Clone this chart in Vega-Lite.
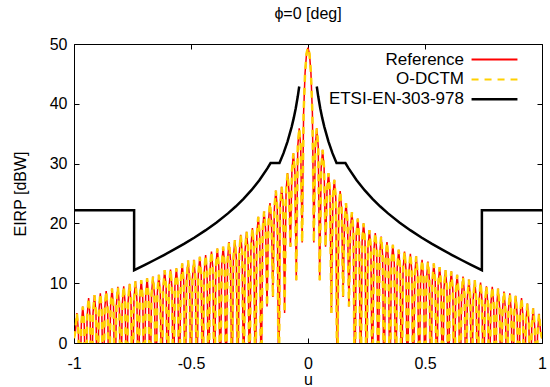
{
 "$schema": "https://vega.github.io/schema/vega-lite/v6.json",
 "width": 468,
 "height": 299,
 "autosize": {"type": "none"},
 "padding": {"left": 74, "top": 44, "right": 8, "bottom": 44},
 "background": "white",
 "title": {"text": "ϕ=0 [deg]", "fontSize": 16, "fontWeight": "normal", "font": "Liberation Sans", "color": "black", "anchor": "middle", "offset": 1, "baseline": "alphabetic"},
 "config": {
  "view": {"stroke": "black", "strokeWidth": 1},
  "font": "Liberation Sans",
  "axis": {"grid": false, "domain": false, "tickColor": "black", "tickSize": -5, "tickWidth": 1, "labelFontSize": 16, "labelColor": "black", "titleFontSize": 16, "titleFontWeight": "normal", "titleColor": "black", "labelFont": "Liberation Sans", "titleFont": "Liberation Sans", "labelFlush": false, "labelOverlap": false},
  "legend": {"orient": "none", "legendX": 412, "legendY": 7, "padding": 0, "symbolType": "M-2.55,0H2.55", "symbolSize": 324, "symbolStrokeWidth": 2, "labelFontSize": 17, "labelFont": "Liberation Sans", "labelColor": "black", "labelAlign": "right", "labelOffset": -39, "rowPadding": 1.9, "labelLimit": 300}
 },
 "datasets": {
  "pat": [
{"u":-1,"r":0.8,"o":0.8},{"u":-0.99375,"r":2.0,"o":2.0},{"u":-0.9875,"r":5.0,"o":5.0},{"u":-0.98125,"r":2.0,"o":2.0},{"u":-0.975,"r":-10,"o":-10},
{"u":-0.96875,"r":3.1,"o":3.1},{"u":-0.9625,"r":6.1,"o":6.1},{"u":-0.95625,"r":3.1,"o":3.1},{"u":-0.95,"r":-10,"o":-10},
{"u":-0.94375,"r":4.5,"o":4.5},{"u":-0.9375,"r":7.5,"o":7.5},{"u":-0.93125,"r":4.5,"o":4.5},{"u":-0.925,"r":-10,"o":-10},
{"u":-0.91875,"r":5.0,"o":5.0},{"u":-0.9125,"r":8.0,"o":8.0},{"u":-0.90625,"r":5.0,"o":5.0},{"u":-0.9,"r":-10,"o":-10},
{"u":-0.89375,"r":5.3,"o":5.3},{"u":-0.8875,"r":8.3,"o":8.3},{"u":-0.88125,"r":5.3,"o":5.3},{"u":-0.875,"r":-10,"o":-10},
{"u":-0.86875,"r":5.7,"o":5.7},{"u":-0.8625,"r":8.7,"o":8.7},{"u":-0.85625,"r":5.7,"o":5.7},{"u":-0.85,"r":-10,"o":-10},
{"u":-0.84375,"r":6.1,"o":6.1},{"u":-0.8375,"r":9.1,"o":9.1},{"u":-0.83125,"r":6.1,"o":6.1},{"u":-0.825,"r":-10,"o":-10},
{"u":-0.81875,"r":6.4,"o":6.4},{"u":-0.8125,"r":9.4,"o":9.4},{"u":-0.80625,"r":6.4,"o":6.4},{"u":-0.8,"r":-10,"o":-10},
{"u":-0.79375,"r":6.5,"o":6.5},{"u":-0.7875,"r":9.5,"o":9.5},{"u":-0.78125,"r":6.5,"o":6.5},{"u":-0.775,"r":-10,"o":-10},
{"u":-0.76875,"r":6.9,"o":6.9},{"u":-0.7625,"r":9.9,"o":9.9},{"u":-0.75625,"r":6.9,"o":6.9},{"u":-0.75,"r":-10,"o":-10},
{"u":-0.74375,"r":7.3,"o":7.3},{"u":-0.7375,"r":10.3,"o":10.3},{"u":-0.73125,"r":7.3,"o":7.3},{"u":-0.725,"r":-10,"o":-10},
{"u":-0.71875,"r":7.5,"o":7.5},{"u":-0.7125,"r":10.5,"o":10.5},{"u":-0.70625,"r":7.5,"o":7.5},{"u":-0.7,"r":-10,"o":-10},
{"u":-0.69375,"r":7.8,"o":7.8},{"u":-0.6875,"r":10.8,"o":10.8},{"u":-0.68125,"r":7.8,"o":7.8},{"u":-0.675,"r":-10,"o":-10},
{"u":-0.66875,"r":8.1,"o":8.1},{"u":-0.6625,"r":11.1,"o":11.1},{"u":-0.65625,"r":8.1,"o":8.1},{"u":-0.65,"r":-10,"o":-10},
{"u":-0.64375,"r":8.4,"o":8.4},{"u":-0.6375,"r":11.4,"o":11.4},{"u":-0.63125,"r":8.4,"o":8.4},{"u":-0.625,"r":-10,"o":-10},
{"u":-0.61875,"r":9.2,"o":9.2},{"u":-0.6125,"r":12.2,"o":12.2},{"u":-0.60625,"r":9.2,"o":9.2},{"u":-0.6,"r":-10,"o":-10},
{"u":-0.59375,"r":9.3,"o":9.3},{"u":-0.5875,"r":12.3,"o":12.3},{"u":-0.58125,"r":9.3,"o":9.3},{"u":-0.575,"r":-10,"o":-10},
{"u":-0.56875,"r":9.5,"o":9.5},{"u":-0.5625,"r":12.5,"o":12.5},{"u":-0.55625,"r":9.5,"o":9.5},{"u":-0.55,"r":-10,"o":-10},
{"u":-0.54375,"r":10.3,"o":10.3},{"u":-0.5375,"r":13.3,"o":13.3},{"u":-0.53125,"r":10.3,"o":10.3},{"u":-0.525,"r":-10,"o":-10},
{"u":-0.51875,"r":10.8,"o":10.8},{"u":-0.5125,"r":13.8,"o":13.8},{"u":-0.50625,"r":10.8,"o":10.8},{"u":-0.5,"r":-10,"o":-10},
{"u":-0.49375,"r":10.9,"o":10.9},{"u":-0.4875,"r":13.9,"o":13.9},{"u":-0.48125,"r":10.9,"o":10.9},{"u":-0.475,"r":-10,"o":-10},
{"u":-0.46875,"r":11.4,"o":11.4},{"u":-0.4625,"r":14.4,"o":14.4},{"u":-0.45625,"r":11.4,"o":11.4},{"u":-0.45,"r":-10,"o":-10},
{"u":-0.44375,"r":11.7,"o":11.7},{"u":-0.4375,"r":14.7,"o":14.7},{"u":-0.43125,"r":11.7,"o":11.7},{"u":-0.425,"r":-10,"o":-10},
{"u":-0.41875,"r":12.3,"o":12.3},{"u":-0.4125,"r":15.3,"o":15.3},{"u":-0.40625,"r":12.3,"o":12.3},{"u":-0.4,"r":-10,"o":-10},
{"u":-0.39375,"r":12.8,"o":12.8},{"u":-0.3875,"r":15.8,"o":15.8},{"u":-0.38125,"r":12.8,"o":12.8},{"u":-0.375,"r":-10,"o":-10},
{"u":-0.36875,"r":13.1,"o":13.1},{"u":-0.3625,"r":16.1,"o":16.1},{"u":-0.35625,"r":13.1,"o":13.1},{"u":-0.35,"r":-10,"o":-10},
{"u":-0.34375,"r":13.9,"o":13.9},{"u":-0.3375,"r":16.9,"o":16.9},{"u":-0.33125,"r":13.9,"o":13.9},{"u":-0.325,"r":-10,"o":-10},
{"u":-0.31875,"r":14.2,"o":14.2},{"u":-0.3125,"r":17.2,"o":17.2},{"u":-0.30625,"r":14.2,"o":14.2},{"u":-0.3,"r":-10,"o":-10},
{"u":-0.29375,"r":15.1,"o":15.1},{"u":-0.2875,"r":18.1,"o":18.1},{"u":-0.28125,"r":15.1,"o":15.1},{"u":-0.275,"r":-10,"o":-10},
{"u":-0.26875,"r":15.6,"o":15.6},{"u":-0.2625,"r":18.6,"o":18.6},{"u":-0.25625,"r":15.6,"o":15.6},{"u":-0.25,"r":-10,"o":-10},
{"u":-0.24375,"r":16.2,"o":16.2},{"u":-0.2375,"r":19.2,"o":19.2},{"u":-0.23125,"r":16.2,"o":16.2},{"u":-0.225,"r":-10,"o":-10},
{"u":-0.21875,"r":18.1,"o":18.1},{"u":-0.2125,"r":21.1,"o":21.1},{"u":-0.20625,"r":18.1,"o":18.1},{"u":-0.2,"r":-10,"o":-10},
{"u":-0.19375,"r":19.0,"o":19.0},{"u":-0.1875,"r":22.0,"o":22.0},{"u":-0.18125,"r":19.0,"o":19.0},{"u":-0.175,"r":6.1,"o":6.1},
{"u":-0.16875,"r":20.4,"o":20.4},{"u":-0.1625,"r":23.4,"o":23.4},{"u":-0.15625,"r":20.4,"o":20.4},{"u":-0.15,"r":7.7,"o":7.7},
{"u":-0.14375,"r":22.5,"o":22.5},{"u":-0.1375,"r":25.5,"o":25.5},{"u":-0.13125,"r":22.5,"o":22.5},{"u":-0.125,"r":-10,"o":-10},
{"u":-0.11875,"r":23.1,"o":23.1},{"u":-0.1125,"r":26.1,"o":26.1},{"u":-0.10625,"r":23.1,"o":23.1},{"u":-0.1,"r":5.0,"o":5.0},
{"u":-0.09375,"r":25.4,"o":25.4},{"u":-0.0875,"r":28.4,"o":28.4},{"u":-0.08125,"r":25.4,"o":25.4},{"u":-0.075,"r":16.1,"o":16.1},
{"u":-0.06875,"r":28.7,"o":28.7},{"u":-0.0625,"r":31.7,"o":31.7},{"u":-0.05625,"r":28.7,"o":28.7},{"u":-0.05,"r":10.5,"o":10.5},
{"u":-0.04375,"r":32.9,"o":32.9},{"u":-0.0375,"r":35.9,"o":35.9},{"u":-0.03125,"r":32.9,"o":32.9},{"u":-0.025,"r":16.8,"o":16.8},
{"u":-0.01875,"r":38.5,"o":38.5},{"u":-0.0125,"r":45.2,"o":45.2},{"u":-0.00625,"r":48.4,"o":48.4},{"u":0,"r":49.4,"o":49.4},
{"u":0.00625,"r":48.4,"o":48.4},{"u":0.0125,"r":45.2,"o":45.2},{"u":0.01875,"r":38.5,"o":38.5},{"u":0.025,"r":16.8,"o":16.8},
{"u":0.03125,"r":32.9,"o":32.9},{"u":0.0375,"r":35.9,"o":35.9},{"u":0.04375,"r":32.9,"o":32.9},{"u":0.05,"r":10.5,"o":10.5},
{"u":0.05625,"r":29.3,"o":29.3},{"u":0.0625,"r":32.3,"o":32.3},{"u":0.06875,"r":29.3,"o":29.3},{"u":0.075,"r":16.1,"o":16.1},
{"u":0.08125,"r":25.4,"o":25.4},{"u":0.0875,"r":28.4,"o":28.4},{"u":0.09375,"r":25.4,"o":25.4},{"u":0.1,"r":5.0,"o":5.0},
{"u":0.10625,"r":24.3,"o":24.3},{"u":0.1125,"r":27.3,"o":27.3},{"u":0.11875,"r":24.3,"o":24.3},{"u":0.125,"r":-10,"o":-10},
{"u":0.13125,"r":22.4,"o":22.4},{"u":0.1375,"r":25.4,"o":25.4},{"u":0.14375,"r":22.4,"o":22.4},{"u":0.15,"r":7.7,"o":7.7},
{"u":0.15625,"r":20.4,"o":20.4},{"u":0.1625,"r":23.4,"o":23.4},{"u":0.16875,"r":20.4,"o":20.4},{"u":0.175,"r":6.1,"o":6.1},
{"u":0.18125,"r":18.9,"o":18.9},{"u":0.1875,"r":21.9,"o":21.9},{"u":0.19375,"r":18.9,"o":18.9},{"u":0.2,"r":-10,"o":-10},
{"u":0.20625,"r":17.8,"o":17.8},{"u":0.2125,"r":20.8,"o":20.8},{"u":0.21875,"r":17.8,"o":17.8},{"u":0.225,"r":-10,"o":-10},
{"u":0.23125,"r":17.0,"o":17.0},{"u":0.2375,"r":20.0,"o":20.0},{"u":0.24375,"r":17.0,"o":17.0},{"u":0.25,"r":-10,"o":-10},
{"u":0.25625,"r":15.9,"o":15.9},{"u":0.2625,"r":18.9,"o":18.9},{"u":0.26875,"r":15.9,"o":15.9},{"u":0.275,"r":-10,"o":-10},
{"u":0.28125,"r":15.4,"o":15.4},{"u":0.2875,"r":18.4,"o":18.4},{"u":0.29375,"r":15.4,"o":15.4},{"u":0.3,"r":-10,"o":-10},
{"u":0.30625,"r":14.8,"o":14.8},{"u":0.3125,"r":17.8,"o":17.8},{"u":0.31875,"r":14.8,"o":14.8},{"u":0.325,"r":-10,"o":-10},
{"u":0.33125,"r":13.9,"o":13.9},{"u":0.3375,"r":16.9,"o":16.9},{"u":0.34375,"r":13.9,"o":13.9},{"u":0.35,"r":-10,"o":-10},
{"u":0.35625,"r":13.4,"o":13.4},{"u":0.3625,"r":16.4,"o":16.4},{"u":0.36875,"r":13.4,"o":13.4},{"u":0.375,"r":-10,"o":-10},
{"u":0.38125,"r":12.6,"o":12.6},{"u":0.3875,"r":15.6,"o":15.6},{"u":0.39375,"r":12.6,"o":12.6},{"u":0.4,"r":-10,"o":-10},
{"u":0.40625,"r":12.3,"o":12.3},{"u":0.4125,"r":15.3,"o":15.3},{"u":0.41875,"r":12.3,"o":12.3},{"u":0.425,"r":-10,"o":-10},
{"u":0.43125,"r":11.9,"o":11.9},{"u":0.4375,"r":14.9,"o":14.9},{"u":0.44375,"r":11.9,"o":11.9},{"u":0.45,"r":-10,"o":-10},
{"u":0.45625,"r":11.5,"o":11.5},{"u":0.4625,"r":14.5,"o":14.5},{"u":0.46875,"r":11.5,"o":11.5},{"u":0.475,"r":-10,"o":-10},
{"u":0.48125,"r":10.9,"o":10.9},{"u":0.4875,"r":13.9,"o":13.9},{"u":0.49375,"r":10.9,"o":10.9},{"u":0.5,"r":-10,"o":-10},
{"u":0.50625,"r":10.6,"o":10.6},{"u":0.5125,"r":13.6,"o":13.6},{"u":0.51875,"r":10.6,"o":10.6},{"u":0.525,"r":-10,"o":-10},
{"u":0.53125,"r":10.3,"o":10.3},{"u":0.5375,"r":13.3,"o":13.3},{"u":0.54375,"r":10.3,"o":10.3},{"u":0.55,"r":-10,"o":-10},
{"u":0.55625,"r":9.7,"o":9.7},{"u":0.5625,"r":12.7,"o":12.7},{"u":0.56875,"r":9.7,"o":9.7},{"u":0.575,"r":-10,"o":-10},
{"u":0.58125,"r":9.2,"o":9.2},{"u":0.5875,"r":12.2,"o":12.2},{"u":0.59375,"r":9.2,"o":9.2},{"u":0.6,"r":-10,"o":-10},
{"u":0.60625,"r":9.0,"o":9.0},{"u":0.6125,"r":12.0,"o":12.0},{"u":0.61875,"r":9.0,"o":9.0},{"u":0.625,"r":-10,"o":-10},
{"u":0.63125,"r":8.4,"o":8.4},{"u":0.6375,"r":11.4,"o":11.4},{"u":0.64375,"r":8.4,"o":8.4},{"u":0.65,"r":-10,"o":-10},
{"u":0.65625,"r":8.1,"o":8.1},{"u":0.6625,"r":11.1,"o":11.1},{"u":0.66875,"r":8.1,"o":8.1},{"u":0.675,"r":-10,"o":-10},
{"u":0.68125,"r":7.6,"o":7.6},{"u":0.6875,"r":10.6,"o":10.6},{"u":0.69375,"r":7.6,"o":7.6},{"u":0.7,"r":-10,"o":-10},
{"u":0.70625,"r":7.5,"o":7.5},{"u":0.7125,"r":10.5,"o":10.5},{"u":0.71875,"r":7.5,"o":7.5},{"u":0.725,"r":-10,"o":-10},
{"u":0.73125,"r":7.1,"o":7.1},{"u":0.7375,"r":10.1,"o":10.1},{"u":0.74375,"r":7.1,"o":7.1},{"u":0.75,"r":-10,"o":-10},
{"u":0.75625,"r":6.5,"o":6.5},{"u":0.7625,"r":9.5,"o":9.5},{"u":0.76875,"r":6.5,"o":6.5},{"u":0.775,"r":-10,"o":-10},
{"u":0.78125,"r":6.4,"o":6.4},{"u":0.7875,"r":9.4,"o":9.4},{"u":0.79375,"r":6.4,"o":6.4},{"u":0.8,"r":-10,"o":-10},
{"u":0.80625,"r":6.1,"o":6.1},{"u":0.8125,"r":9.1,"o":9.1},{"u":0.81875,"r":6.1,"o":6.1},{"u":0.825,"r":-10,"o":-10},
{"u":0.83125,"r":5.6,"o":5.6},{"u":0.8375,"r":8.6,"o":8.6},{"u":0.84375,"r":5.6,"o":5.6},{"u":0.85,"r":-10,"o":-10},
{"u":0.85625,"r":5.3,"o":5.3},{"u":0.8625,"r":8.3,"o":8.3},{"u":0.86875,"r":5.3,"o":5.3},{"u":0.875,"r":-10,"o":-10},
{"u":0.88125,"r":4.9,"o":4.9},{"u":0.8875,"r":7.9,"o":7.9},{"u":0.89375,"r":4.9,"o":4.9},{"u":0.9,"r":-10,"o":-10},
{"u":0.90625,"r":4.5,"o":4.5},{"u":0.9125,"r":7.5,"o":7.5},{"u":0.91875,"r":4.5,"o":4.5},{"u":0.925,"r":-10,"o":-10},
{"u":0.93125,"r":3.6,"o":3.6},{"u":0.9375,"r":6.6,"o":6.6},{"u":0.94375,"r":3.6,"o":3.6},{"u":0.95,"r":-10,"o":-10},
{"u":0.95625,"r":2.8,"o":2.8},{"u":0.9625,"r":5.8,"o":5.8},{"u":0.96875,"r":2.8,"o":2.8},{"u":0.975,"r":-10,"o":-10},
{"u":0.98125,"r":1.9,"o":1.9},{"u":0.9875,"r":4.9,"o":4.9},{"u":0.99375,"r":1.9,"o":1.9},{"u":1,"r":0.8,"o":0.8}
  ],
  "mask": [
{"u":-1,"e":22.2,"seg":"L"},{"u":-0.7431,"e":22.2,"seg":"L"},{"u":-0.7431,"e":12.17,"seg":"L"},{"u":-0.6947,"e":13.11,"seg":"L"},{"u":-0.6561,"e":13.88,"seg":"L"},{"u":-0.6157,"e":14.71,"seg":"L"},{"u":-0.5736,"e":15.6,"seg":"L"},{"u":-0.5299,"e":16.57,"seg":"L"},{"u":-0.4848,"e":17.64,"seg":"L"},{"u":-0.4384,"e":18.83,"seg":"L"},{"u":-0.3907,"e":20.16,"seg":"L"},{"u":-0.342,"e":21.67,"seg":"L"},{"u":-0.309,"e":22.82,"seg":"L"},{"u":-0.2756,"e":24.1,"seg":"L"},{"u":-0.2419,"e":25.55,"seg":"L"},{"u":-0.2079,"e":27.22,"seg":"L"},{"u":-0.1736,"e":29.2,"seg":"L"},{"u":-0.1599,"e":30.1,"seg":"L"},{"u":-0.1219,"e":30.1,"seg":"L"},{"u":-0.1045,"e":31.75,"seg":"L"},{"u":-0.0872,"e":33.73,"seg":"L"},{"u":-0.0698,"e":36.15,"seg":"L"},{"u":-0.061,"e":37.6,"seg":"L"},{"u":-0.0523,"e":39.27,"seg":"L"},{"u":-0.0436,"e":41.25,"seg":"L"},{"u":-0.0375,"e":42.89,"seg":"L"},
{"u":0.0375,"e":42.89,"seg":"R"},{"u":0.0436,"e":41.25,"seg":"R"},{"u":0.0523,"e":39.27,"seg":"R"},{"u":0.061,"e":37.6,"seg":"R"},{"u":0.0698,"e":36.15,"seg":"R"},{"u":0.0872,"e":33.73,"seg":"R"},{"u":0.1045,"e":31.75,"seg":"R"},{"u":0.1219,"e":30.1,"seg":"R"},{"u":0.1599,"e":30.1,"seg":"R"},{"u":0.1736,"e":29.2,"seg":"R"},{"u":0.2079,"e":27.22,"seg":"R"},{"u":0.2419,"e":25.55,"seg":"R"},{"u":0.2756,"e":24.1,"seg":"R"},{"u":0.309,"e":22.82,"seg":"R"},{"u":0.342,"e":21.67,"seg":"R"},{"u":0.3907,"e":20.16,"seg":"R"},{"u":0.4384,"e":18.83,"seg":"R"},{"u":0.4848,"e":17.64,"seg":"R"},{"u":0.5299,"e":16.57,"seg":"R"},{"u":0.5736,"e":15.6,"seg":"R"},{"u":0.6157,"e":14.71,"seg":"R"},{"u":0.6561,"e":13.88,"seg":"R"},{"u":0.6947,"e":13.11,"seg":"R"},{"u":0.7431,"e":12.17,"seg":"R"},{"u":0.7431,"e":22.2,"seg":"R"},{"u":1,"e":22.2,"seg":"R"}
  ]
 },
 "resolve": {"axis": {"x": "independent", "y": "independent"}},
 "layer": [
  {
   "data": {"name": "pat"},
   "mark": {"type": "line", "strokeWidth": 1.5, "clip": true},
   "encoding": {
    "x": {"field": "u", "type": "quantitative", "scale": {"domain": [-1, 1], "nice": false, "zero": false},
          "axis": {"orient": "bottom", "values": [-1, -0.5, 0, 0.5, 1], "labelExpr": "'' + datum.value", "title": "u", "labelPadding": 17, "titlePadding": 0}},
    "y": {"field": "r", "type": "quantitative", "scale": {"domain": [0, 50], "nice": false},
          "axis": {"orient": "left", "values": [0, 10, 20, 30, 40, 50], "title": "EIRP [dBW]", "labelPadding": 12, "titlePadding": 21}},
    "color": {"datum": "Reference", "type": "nominal",
              "scale": {"domain": ["Reference", "O-DCTM", "ETSI-EN-303-978"], "range": ["#ff0000", "#ffd000", "#000000"]},
              "legend": {"title": null, "encode": {"symbols": {"update": {"stroke": {"signal": "scale('color', datum.value)"}, "strokeDash": {"signal": "datum.value == 'O-DCTM' ? [7, 6] : [1, 0]"}, "strokeWidth": {"signal": "datum.value == 'ETSI-EN-303-978' ? 2.5 : 2"}, "opacity": {"value": 1}}}}}}
   }
  },
  {
   "data": {"name": "pat"},
   "mark": {"type": "line", "strokeWidth": 2.5, "strokeDash": [7, 6], "clip": true},
   "encoding": {
    "x": {"field": "u", "type": "quantitative", "axis": null},
    "y": {"field": "o", "type": "quantitative", "axis": null},
    "color": {"datum": "O-DCTM", "type": "nominal"}
   }
  },
  {
   "data": {"name": "mask"},
   "mark": {"type": "line", "strokeWidth": 2.5, "clip": true},
   "encoding": {
    "x": {"field": "u", "type": "quantitative", "axis": {"orient": "top", "values": [-1, -0.5, 0, 0.5, 1], "labels": false, "title": null}},
    "y": {"field": "e", "type": "quantitative", "axis": {"orient": "right", "values": [0, 10, 20, 30, 40, 50], "labels": false, "title": null}},
    "detail": {"field": "seg", "type": "nominal"},
    "color": {"datum": "ETSI-EN-303-978", "type": "nominal"}
   }
  }
 ]
}
